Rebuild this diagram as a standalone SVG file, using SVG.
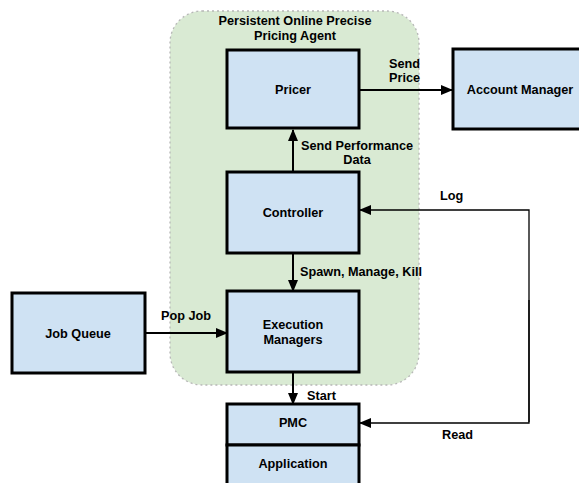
<svg xmlns="http://www.w3.org/2000/svg" width="579" height="483" viewBox="0 0 579 483">
<style>
.box{fill:#cfe2f3;stroke:#000;stroke-width:3}
.t{font-family:"Liberation Sans",Arial,sans-serif;font-weight:bold;font-size:12.7px;fill:#000}
.c{text-anchor:middle}
.ln{fill:none;stroke:#000;stroke-width:2}
.thin{fill:none;stroke:#000;stroke-width:1.3}
</style>
<defs>
<marker id="ah" markerWidth="12" markerHeight="10" refX="11" refY="5" orient="auto" markerUnits="userSpaceOnUse">
<path d="M0,0 L12,5 L0,10 Z" fill="#000"/>
</marker>
</defs>
<g id="agent">
<rect x="170" y="11" width="249" height="374" rx="32" ry="32" fill="#d9ead3" stroke="#b7b7b7" stroke-width="1.3" stroke-dasharray="2,3"/>
<text class="t c" x="295" y="25">Persistent Online Precise</text>
<text class="t c" x="295" y="40">Pricing Agent</text>
</g>
<g id="connectors">
<line class="ln" x1="360" y1="90" x2="452" y2="90" marker-end="url(#ah)"/>
<line class="ln" x1="293" y1="172" x2="293" y2="130" marker-end="url(#ah)"/>
<line class="ln" x1="293" y1="254" x2="293" y2="291" marker-end="url(#ah)"/>
<line class="ln" x1="145" y1="333" x2="227" y2="333" marker-end="url(#ah)"/>
<line class="ln" x1="293" y1="373" x2="293" y2="404" marker-end="url(#ah)"/>
<polyline class="thin" points="529,422 529,210 360,210" marker-end="url(#ah)"/>
<polyline class="thin" points="529,300 529,423 360,423" marker-end="url(#ah)"/>
<text class="t" x="389" y="68">Send</text>
<text class="t" x="389" y="82">Price</text>
<text class="t c" x="357" y="150">Send Performance</text>
<text class="t c" x="357" y="164">Data</text>
<text class="t" x="300" y="276">Spawn, Manage, Kill</text>
<text class="t" x="161" y="320">Pop Job</text>
<text class="t" x="307" y="400">Start</text>
<text class="t" x="440" y="200">Log</text>
<text class="t" x="442" y="439">Read</text>
</g>
<g id="pricer">
<rect class="box" x="227" y="50" width="132" height="78"/>
<text class="t c" x="293" y="94">Pricer</text>
</g>
<g id="account-manager">
<rect class="box" x="453" y="49" width="135" height="80"/>
<text class="t c" x="520" y="94">Account Manager</text>
</g>
<g id="controller">
<rect class="box" x="227" y="172" width="132" height="81"/>
<text class="t c" x="293" y="217">Controller</text>
</g>
<g id="execution-managers">
<rect class="box" x="227" y="291" width="132" height="81"/>
<text class="t c" x="293" y="329">Execution</text>
<text class="t c" x="293" y="344">Managers</text>
</g>
<g id="job-queue">
<rect class="box" x="12" y="293" width="133" height="80"/>
<text class="t c" x="78" y="338">Job Queue</text>
</g>
<g id="pmc">
<rect class="box" x="227" y="404" width="132" height="41"/>
<text class="t c" x="293" y="427">PMC</text>
</g>
<g id="application">
<rect class="box" x="227" y="445" width="132" height="45"/>
<text class="t c" x="293" y="468">Application</text>
</g>
</svg>
